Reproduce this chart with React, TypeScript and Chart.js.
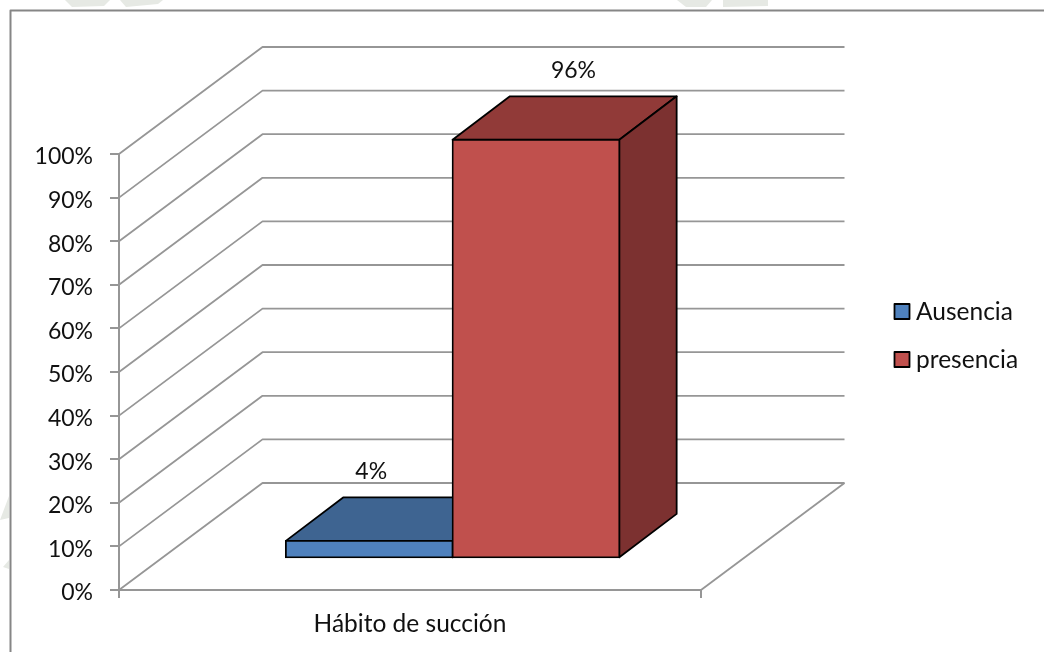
import React, { useEffect, useRef } from "react";
import { Chart, registerables } from "chart.js";

Chart.register(...registerables);

const categories = ["Hábito de succión"];
const ausencia = [4];
const presencia = [96];
const seriesNames = ["Ausencia", "presencia"];
const valueTicks = [0, 10, 20, 30, 40, 50, 60, 70, 80, 90, 100];

const FONT = "Lato, Carlito, sans-serif";
const DIGIT_SIZE = 23;
const WORD_SIZE = 24.5;
const TEXT = "#111";
const GRID = "#969696";
const W = 1044;
const H = 652;
const WALL = { dx: 143.5, dy: -107 };
const PLANE = { dx: 42.6, dy: -31.7 };
const DEPTH = { dx: 57.3, dy: -43.4 };
const faces = [
  { front: "#4f81bd", top: "#3e6491", side: "#34537a", labelDx: 2, legendY: 311.5 },
  { front: "#c0504d", top: "#913a38", side: "#7c3130", labelDx: 37.5, legendY: 359.5 },
];

const poly = (ctx: CanvasRenderingContext2D, pts: number[][], fill: string | null, stroke: string | null, lw = 1.8) => {
  ctx.beginPath();
  pts.forEach(([x, y], i) => (i ? ctx.lineTo(x, y) : ctx.moveTo(x, y)));
  if (fill) {
    ctx.closePath();
    ctx.fillStyle = fill;
    ctx.fill();
  }
  if (stroke) {
    ctx.strokeStyle = stroke;
    ctx.lineWidth = lw;
    ctx.lineJoin = "round";
    ctx.stroke();
  }
};

const scene3d = {
  id: "scene3d",
  beforeDraw(chart: any) {
    const { ctx } = chart;
    ctx.save();
    ctx.fillStyle = "#fff";
    ctx.fillRect(0, 0, W, H);
    // faint watermark remains outside the frame
    const wm = "#e6e9e4";
    poly(ctx, [[65, 0], [110, 0], [104, 6], [72, 7]], wm, null);
    poly(ctx, [[120, 0], [163, 0], [158, 4], [126, 7]], wm, null);
    poly(ctx, [[677, 0], [712, 0], [706, 7], [686, 7]], wm, null);
    poly(ctx, [[723, 0], [768, 0], [768, 6], [723, 7]], wm, null);
    poly(ctx, [[9, 496], [0, 520], [9, 518]], wm, null);
    poly(ctx, [[9, 560], [3, 567], [9, 569]], wm, null);
    // frame
    poly(ctx, [[10.5, H], [10.5, 10.5], [W, 10.5]], null, "#868686", 2);
    ctx.restore();
  },
  beforeDatasetsDraw(chart: any) {
    const { ctx, chartArea, scales } = chart;
    const { left, right, bottom } = chartArea;
    ctx.save();
    valueTicks.forEach((t) => {
      const y = scales.y.getPixelForValue(t);
      poly(ctx, [[left, y], [left + WALL.dx, y + WALL.dy], [right + WALL.dx, y + WALL.dy]], null, GRID, 1.8);
    });
    poly(ctx, [[right, bottom], [right + WALL.dx, bottom + WALL.dy]], null, GRID, 1.8);
    ctx.restore();
  },
  // The library's own pass paints the last series first; the 3D stack needs the reverse.
  beforeDatasetDraw() {
    return false;
  },
  afterDatasetsDraw(chart: any) {
    const { ctx } = chart;
    chart.data.datasets.forEach((_: any, i: number) => {
      const meta = chart.getDatasetMeta(i);
      const f = faces[i];
      const { x, y, base, width } = meta.data[0].getProps(["x", "y", "base", "width"], true);
      const l = x - width / 2 + PLANE.dx;
      const r = x + width / 2 + PLANE.dx;
      const t = y + PLANE.dy;
      const b = base + PLANE.dy;
      const { dx, dy } = DEPTH;
      poly(ctx, [[l, t], [l + dx, t + dy], [r + dx, t + dy], [r, t]], f.top, "#000");
      poly(ctx, [[r, t], [r + dx, t + dy], [r + dx, b + dy], [r, b]], f.side, "#000");
      ctx.save();
      ctx.translate(PLANE.dx, PLANE.dy);
      meta.controller.draw();
      ctx.restore();
    });
    ctx.save();
    ctx.font = `${DIGIT_SIZE}px ${FONT}`;
    ctx.textBaseline = "middle";
    ctx.textAlign = "center";
    ctx.fillStyle = TEXT;
    chart.data.datasets.forEach((ds: any, i: number) => {
      const bar = chart.getDatasetMeta(i).data[0];
      ctx.fillText(`${ds.data[0]}%`, bar.x + PLANE.dx + faces[i].labelDx, bar.y + PLANE.dy - 69.5);
    });
    ctx.font = `${WORD_SIZE}px ${FONT}`;
    ctx.textAlign = "left";
    chart.data.datasets.forEach((ds: any, i: number) => {
      const cy = faces[i].legendY;
      ctx.fillStyle = faces[i].front;
      ctx.strokeStyle = "#000";
      ctx.lineWidth = 1.8;
      ctx.fillRect(894.5, cy - 7.5, 15, 15);
      ctx.strokeRect(894.5, cy - 7.5, 15, 15);
      ctx.fillStyle = TEXT;
      ctx.fillText(ds.label, 916, cy + 0.5);
    });
    ctx.restore();
  },
};

export default function App() {
  const ref = useRef<HTMLCanvasElement>(null);
  useEffect(() => {
    if (!ref.current) return;
    const barStyle = { borderColor: "#000", borderWidth: 1.8, borderSkipped: false, inflateAmount: 0.9 };
    const chart = new Chart(ref.current, {
      type: "bar",
      data: {
        labels: categories,
        datasets: [
          { label: seriesNames[0], data: ausencia, backgroundColor: faces[0].front, ...barStyle },
          { label: seriesNames[1], data: presencia, backgroundColor: faces[1].front, ...barStyle },
        ],
      },
      options: {
        responsive: false,
        animation: false,
        devicePixelRatio: 1,
        events: [],
        layout: { padding: { top: 154, right: 343, bottom: 0, left: 0 } },
        categoryPercentage: 0.573,
        barPercentage: 1,
        plugins: { legend: { display: false }, tooltip: { enabled: false }, title: { display: false } },
        scales: {
          x: {
            grid: { display: true, offset: true, drawOnChartArea: false, color: GRID, lineWidth: 2, tickLength: 8 },
            border: { color: GRID, width: 2 },
            ticks: { color: TEXT, font: { family: FONT, size: WORD_SIZE }, padding: 11, maxRotation: 0 },
            afterFit: (s: any) => { s.height = 62; },
          },
          y: {
            min: 0,
            max: 100,
            afterBuildTicks: (s: any) => { s.ticks = valueTicks.map((value) => ({ value })); },
            grid: { display: true, drawOnChartArea: false, color: GRID, lineWidth: 2, tickLength: 9 },
            border: { color: GRID, width: 2 },
            ticks: { color: TEXT, font: { family: FONT, size: DIGIT_SIZE }, padding: 17, labelOffset: 3, callback: (v: any) => `${v}%` },
            afterFit: (s: any) => { s.width = 119; },
          },
        },
      } as any,
      plugins: [scene3d],
    });
    return () => chart.destroy();
  }, []);
  return (
    <div style={{ position: "fixed", left: 0, top: 0, width: W, height: H, overflow: "hidden", background: "#fff" }}>
      <canvas ref={ref} width={W} height={H} style={{ display: "block", filter: "blur(0.35px)" }} />
    </div>
  );
}
